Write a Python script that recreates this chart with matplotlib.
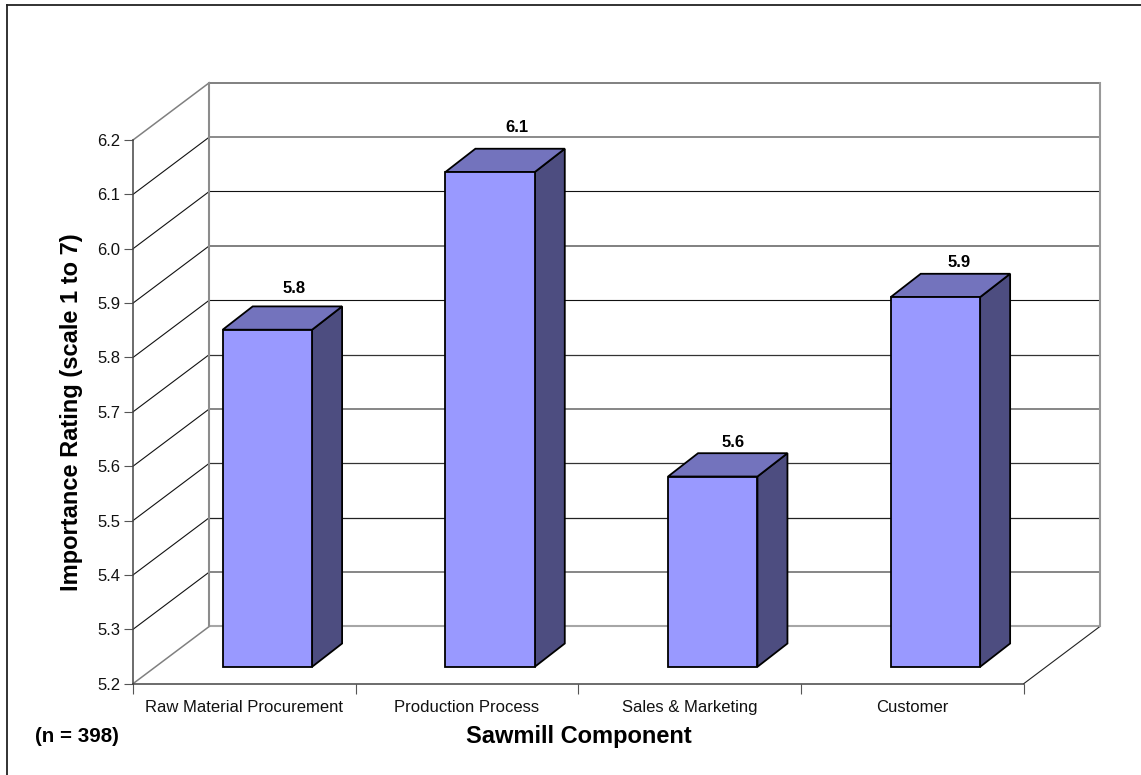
import matplotlib
matplotlib.use("Agg")
import matplotlib.pyplot as plt
from matplotlib.patches import Polygon
from matplotlib.lines import Line2D

categories = ["Raw Material Procurement", "Production Process", "Sales & Marketing", "Customer"]
values = [5.82, 6.11, 5.55, 5.88]
value_labels = ["5.8", "6.1", "5.6", "5.9"]
y_ticks = [5.2, 5.3, 5.4, 5.5, 5.6, 5.7, 5.8, 5.9, 6.0, 6.1, 6.2]

W, H = 1141, 775
plt.rcParams["font.family"] = ["Liberation Sans", "DejaVu Sans"]
fig = plt.figure(figsize=(W / 100, H / 100), dpi=100)
L, R, T, B = 133.0, 1023.7, 140.0, 683.7
ax = fig.add_axes([L / W, 1 - B / H, (R - L) / W, (B - T) / H])
ax.set_xlim(0, 4)
ax.set_ylim(5.2, 6.2)
ax.patch.set_visible(False)

px = 4 / (R - L)          # data units per pixel, x
py = 1.0 / (B - T)        # data units per pixel, y
depth_x, depth_y = 76.3 * px, 57.3 * py

# back-wall gridline styles, one per tick from 5.2 to 6.2
grid_styles = [("#a6a6a6", 1.5), ("#666666", 1.1), ("#222222", 0.9), ("#333333", 0.9),
               ("#666666", 1.1), ("#333333", 0.9), ("#111111", 0.8), ("#808080", 1.4),
               ("#111111", 0.8), ("#777777", 1.2), ("#808080", 1.4)]

for i, y in enumerate(y_ticks):
    c, lw = grid_styles[i]
    ax.plot([depth_x, 4 + depth_x], [y + depth_y] * 2, color=c, lw=lw, clip_on=False,
            solid_capstyle="butt", zorder=1)
    edge = y in (y_ticks[0], y_ticks[-1])
    ax.plot([0, depth_x], [y, y + depth_y], color="#808080" if edge else "#111111",
            lw=1.1 if edge else 0.8, clip_on=False, zorder=1)
# back-wall verticals
for x, c in [(depth_x, "#8c8c8c"), (4 + depth_x, "#999999")]:
    ax.plot([x, x], [y_ticks[0] + depth_y, y_ticks[-1] + depth_y], color=c, lw=1.5,
            clip_on=False, zorder=1.5)
ax.plot([4, 4 + depth_x], [y_ticks[0], y_ticks[0] + depth_y], color="#222222", lw=0.8,
        clip_on=False, zorder=1)

# 3-D bars
bar_off, bar_w = 89.7 * px, 89.4 * px
bx, by = 30.0 * px, 23.3 * py
lift = 16.9 * py
base = y_ticks[0] + lift
label_dx = [71, 72, 65, 68]
label_dy = [41, 45, 34, 35]
edge_kw = dict(edgecolor="black", linewidth=1.3, joinstyle="miter", clip_on=False, zorder=3)
for i, v in enumerate(values):
    x0 = i + bar_off
    x1 = x0 + bar_w
    top = v + lift
    ax.add_patch(Polygon([(x1, base), (x1 + bx, base + by), (x1 + bx, top + by), (x1, top)],
                         facecolor="#4d4d80", **edge_kw))
    ax.add_patch(Polygon([(x0, top), (x0 + bx, top + by), (x1 + bx, top + by), (x1, top)],
                         facecolor="#7373bd", **edge_kw))
    ax.add_patch(Polygon([(x0, base), (x0, top), (x1, top), (x1, base)],
                         facecolor="#9999ff", **edge_kw))
    ax.annotate(value_labels[i], (x0, top), xytext=(label_dx[i], label_dy[i]),
                textcoords="offset pixels", ha="center", va="center", fontsize=12,
                fontweight="bold", color="black", annotation_clip=False)

# axes
for s in ("top", "right"):
    ax.spines[s].set_visible(False)
for s in ("left", "bottom"):
    ax.spines[s].set_color("#444444")
    ax.spines[s].set_linewidth(1.1)
ax.set_yticks(y_ticks)
ax.set_yticklabels([f"{t:.1f}" for t in y_ticks], fontsize=12, color="#111111")
ax.tick_params(axis="y", length=6.5, width=0.8, color="#555555", pad=2.5)
ax.set_xticks(range(5))
ax.set_xticklabels([])
ax.tick_params(axis="x", which="major", length=7.5, width=0.8, color="#555555")
ax.set_xticks([i + 0.5 for i in range(4)], minor=True)
ax.set_xticklabels(categories, minor=True, fontsize=12, color="#111111")
ax.tick_params(axis="x", which="minor", length=0, pad=11.5)

ax.set_ylabel("Importance Rating (scale 1 to 7)", fontsize=17, fontweight="bold", labelpad=0)
ax.yaxis.set_label_coords((72 - L) / (R - L), (B - 412.5) / (B - T))
ax.set_xlabel("Sawmill Component", fontsize=17, fontweight="bold")
ax.xaxis.set_label_coords((578.5 - L) / (R - L), (B - 736.5) / (B - T))
ax.xaxis.label.set_va("center")
ax.yaxis.label.set_va("center")
fig.text(35 / W, 1 - 736 / H, "(n = 398)", fontsize=14.8, fontweight="bold", ha="left", va="center")

# chart frame
fig.add_artist(Line2D([7 / W, 7 / W], [0, 1 - 4.5 / H], color="#222222", lw=1.3))
fig.add_artist(Line2D([7 / W, 1], [1 - 4.5 / H] * 2, color="#222222", lw=1.3))

fig.savefig("out.png", dpi=100)
